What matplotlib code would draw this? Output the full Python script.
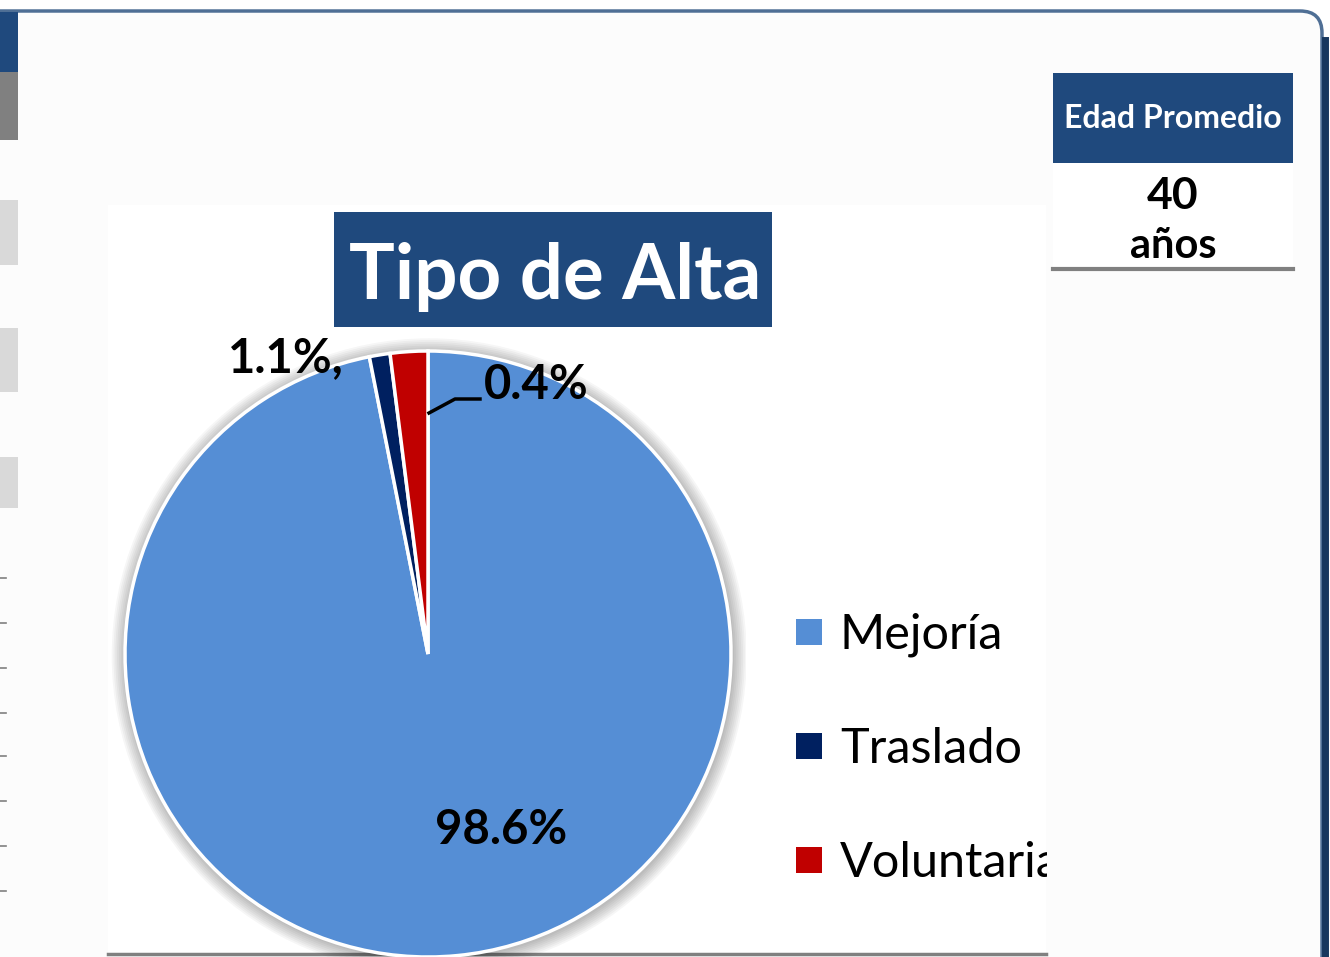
import matplotlib
matplotlib.use("Agg")
import matplotlib.pyplot as plt
from matplotlib.patches import Rectangle, Circle, FancyBboxPatch

# data
categories = ['Mejoría', 'Traslado', 'Voluntaria']
slice_values = [96.9, 1.1, 2.0]          # share of the circle as drawn
pct_labels = ['98.6%', '1.1%,', '0.4%']   # labels as printed on the chart
colors = ['#558ED5', '#002060', '#C00000']
chart_title = 'Tipo de Alta'
box_title = 'Edad Promedio'
box_value = '40'
box_unit = 'años'

W, H = 1330, 957
plt.rcParams['font.family'] = ['Lato', 'DejaVu Sans']

fig = plt.figure(figsize=(W / 100, H / 100), dpi=100)
fig.patch.set_facecolor('white')

# background axes in pixel coordinates
bg = fig.add_axes([0, 0, 1, 1])
bg.set_xlim(0, W)
bg.set_ylim(H, 0)
bg.axis('off')
bg.set_zorder(0)

# outer panel
bg.add_patch(FancyBboxPatch((-40, 11), 1362, 1000, boxstyle='round,pad=0,rounding_size=22',
                            facecolor='#FCFCFC', edgecolor='#4F6F95', lw=2.5))
bg.plot([1325, 1325], [40, H], color='#17375E', lw=5)

# left side strip
bg.add_patch(Rectangle((0, 12), 18, 60, facecolor='#1F497D', lw=0))
bg.add_patch(Rectangle((0, 72), 18, 68, facecolor='#808080', lw=0))
for y0, y1 in [(200, 265), (328, 392), (457, 508)]:
    bg.add_patch(Rectangle((0, y0), 18, y1 - y0, facecolor='#D9D9D9', lw=0))
for yt in [578, 623, 668, 713, 756, 801, 846, 891]:
    bg.plot([0, 6], [yt, yt], color='#808080', lw=1.2)

# chart area
bg.add_patch(Rectangle((108, 205), 938, 750, facecolor='white', lw=0))
bg.plot([108, 1046], [954, 954], color='#808080', lw=2.5)

# title box
bg.add_patch(Rectangle((334, 212), 438, 115, facecolor='#1F497D', lw=0))
bg.text(555, 277, chart_title, color='white', fontsize=55, fontweight='bold',
        ha='center', va='center')

# Edad Promedio box
bg.add_patch(Rectangle((1053, 73), 240, 90, facecolor='#1F497D', lw=0))
bg.add_patch(Rectangle((1053, 163), 240, 105, facecolor='white', lw=0))
bg.text(1173, 118, box_title, color='white', fontsize=23, fontweight='bold',
        ha='center', va='center')
bg.text(1173, 196, box_value, color='black', fontsize=32, fontweight='bold',
        ha='center', va='center')
bg.text(1173, 246, box_unit, color='black', fontsize=30, fontweight='bold',
        ha='center', va='center')
bg.plot([1053, 1293], [269, 269], color='#808080', lw=3)

# legend
leg_y = [632, 746, 860]
for cat, col, yy in zip(categories, colors, leg_y):
    bg.add_patch(Rectangle((796, yy - 13), 26, 26, facecolor=col, lw=0, zorder=3))
    bg.text(840, yy + 3, cat, color='black', fontsize=35, ha='left', va='center', zorder=3)
# clip legend text at the chart edge
bg.add_patch(Rectangle((1047, 290), 270, 660, facecolor='#FCFCFC', lw=0, zorder=4))

# pie
cx, cy, r = 428, 654, 303
pad = 1.05
ax = fig.add_axes([(cx - r * pad) / W, (H - cy - r * pad) / H, 2 * pad * r / W, 2 * pad * r / H])
ax.set_zorder(1)
for k in range(8):
    ax.add_patch(Circle((0.004, -0.006), 1.0 + 0.006 * (k + 1), facecolor='#000000',
                        alpha=0.035, lw=0, zorder=0))
wedges, _ = ax.pie(slice_values, colors=colors, startangle=90, counterclock=False,
                   radius=1.0, wedgeprops=dict(edgecolor='white', linewidth=2.5),
                   frame=False)
for w in wedges:
    w.set_zorder(2)
ax.set_xlim(-pad, pad)
ax.set_ylim(-pad, pad)
ax.axis('off')

# data labels on a top overlay (pixel coords)
top = fig.add_axes([0, 0, 1, 1])
top.set_xlim(0, W)
top.set_ylim(H, 0)
top.axis('off')
top.set_zorder(2)
top.patch.set_alpha(0)
top.text(501, 830, pct_labels[0], fontsize=34, fontweight='bold', ha='center', va='center')
top.text(286, 358, pct_labels[1], fontsize=34, fontweight='bold', ha='center', va='center')
top.text(536, 385, pct_labels[2], fontsize=34, fontweight='bold', ha='center', va='center')
top.plot([429, 455, 480], [413, 399, 399], color='black', lw=2.5)

fig.savefig('out.png', dpi=100)
